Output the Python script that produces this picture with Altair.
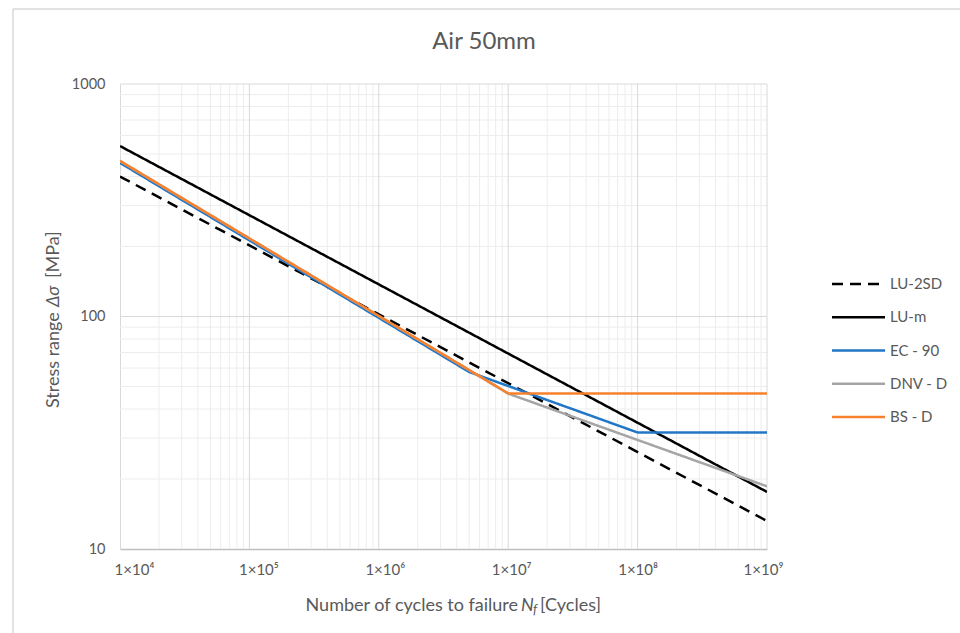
import altair as alt
import pandas as pd

# ---------------- data ----------------
series_names = ["LU-2SD", "LU-m", "EC - 90", "DNV - D", "BS - D"]
series_colors = ["#000000", "#000000", "#2176c6", "#a5a5a5", "#f7812c"]
series_dash = [[11, 7], [1, 0], [1, 0], [1, 0], [1, 0]]

lu2sd_n = [1e4, 1e9]
lu2sd_s = [400, 13.2]
lum_n = [1e4, 1e9]
lum_s = [541, 17.6]
ec_n = [1e4, 5e6, 1e8, 1e9]
ec_s = [458, 57.7, 31.7, 31.7]
dnv_n = [1e4, 1e7, 1e9]
dnv_s = [466, 46.6, 18.6]
bs_n = [1e4, 1e7, 1e9]
bs_s = [467, 46.7, 46.7]

x_ticks = [1e4, 1e5, 1e6, 1e7, 1e8, 1e9]
x_tick_labels = ["1×10⁴", "1×10⁵", "1×10⁶", "1×10⁷", "1×10⁸", "1×10⁹"]
x_label_shift = [14, 9, 6, 3, 0, -4]
y_ticks = [10, 100, 1000]
y_tick_labels = ["10", "100", "1000"]

chart_title = "Air 50mm"
x_title_parts = ["Number  of cycles to failure", "N", "f", "[Cycles]"]
y_title_parts = ["Stress range", "Δσ", "[MPa]"]

FONT = "Lato"
TXT = "#595959"

# ---------------- tables ----------------
rows = []
for name, ns, ss in [
    ("LU-2SD", lu2sd_n, lu2sd_s),
    ("LU-m", lum_n, lum_s),
    ("EC - 90", ec_n, ec_s),
    ("DNV - D", dnv_n, dnv_s),
    ("BS - D", bs_n, bs_s),
]:
    for i, (n, s) in enumerate(zip(ns, ss)):
        rows.append({"series": name, "n": n, "s": s, "i": i})
df = pd.DataFrame(rows)

x_minor = [m * d for d in [1e4, 1e5, 1e6, 1e7, 1e8] for m in range(2, 10)]
y_minor = [m * d for d in [10, 100] for m in range(2, 10)]

W, H = 647, 465
L, T = 120, 84

xscale = alt.Scale(type="log", domain=[1e4, 1e9], nice=False)
yscale = alt.Scale(type="log", domain=[10, 1000], nice=False)
cscale = alt.Scale(domain=series_names, range=series_colors)
dscale = alt.Scale(domain=series_names, range=series_dash)

x_label_expr = " : ".join(
    f"datum.value == {int(v)} ? '{lab}'" for v, lab in zip(x_ticks, x_tick_labels)
) + " : ''"
y_label_expr = " : ".join(
    f"datum.value == {int(v)} ? '{lab}'" for v, lab in zip(y_ticks, y_tick_labels)
) + " : ''"
x_label_offset = {
    "condition": [{"test": f"datum.value == {int(v)}", "value": d}
                  for v, d in zip(x_ticks, x_label_shift)],
    "value": 0,
}

xaxis = alt.Axis(values=x_ticks, labelExpr=x_label_expr, grid=False, ticks=False,
                 domainColor="#bfbfbf", domainWidth=1.5, labelFont=FONT,
                 labelFontSize=15, labelColor=TXT, labelPadding=13, title=None,
                 labelFlush=False, labelOverlap=False, labelOffset=x_label_offset)
yaxis = alt.Axis(values=y_ticks, labelExpr=y_label_expr, grid=False, ticks=False,
                 domainColor="#d9d9d9", domainWidth=1, labelFont=FONT,
                 labelFontSize=14.5, labelColor=TXT, labelPadding=15, title=None,
                 labelFlush=False, labelOverlap=False)

minor_x = alt.Chart(pd.DataFrame({"n": x_minor})).mark_rule(
    color="#ededed", strokeWidth=1).encode(x=alt.X("n:Q", scale=xscale, axis=xaxis))
minor_y = alt.Chart(pd.DataFrame({"s": y_minor})).mark_rule(
    color="#ededed", strokeWidth=1).encode(y=alt.Y("s:Q", scale=yscale, axis=yaxis))
major_x = alt.Chart(pd.DataFrame({"n": x_ticks[1:]})).mark_rule(
    color="#d9d9d9", strokeWidth=1).encode(x=alt.X("n:Q", scale=xscale, axis=xaxis))
major_y = alt.Chart(pd.DataFrame({"s": y_ticks[1:]})).mark_rule(
    color="#d9d9d9", strokeWidth=1).encode(y=alt.Y("s:Q", scale=yscale, axis=yaxis))

lines = alt.Chart(df).mark_line(strokeWidth=2.5, clip=True).encode(
    x=alt.X("n:Q", scale=xscale, axis=xaxis),
    y=alt.Y("s:Q", scale=yscale, axis=yaxis),
    color=alt.Color("series:N", scale=cscale, legend=None),
    strokeDash=alt.StrokeDash("series:N", scale=dscale, legend=None),
    detail="series:N",
    order="i:Q",
)

# ---------------- legend (manual) ----------------
leg_df = pd.DataFrame({"series": series_names})
leg_y = alt.Y("series:N", scale=alt.Scale(type="point", domain=series_names,
                                           range=[284 - T, 417 - T], padding=0),
              axis=None)
leg_rules = alt.Chart(leg_df).mark_rule(strokeWidth=2.5).encode(
    x=alt.value(832 - L), x2=alt.value(885 - L), y=leg_y,
    color=alt.Color("series:N", scale=cscale, legend=None),
    strokeDash=alt.StrokeDash("series:N", scale=dscale, legend=None),
)
leg_text = alt.Chart(leg_df).mark_text(
    align="left", baseline="middle", font=FONT, fontSize=15, color=TXT).encode(
    x=alt.value(890 - L), y=leg_y, text="series:N")
legend = alt.layer(leg_rules, leg_text)

# ---------------- texts ----------------
one = pd.DataFrame({"a": [0]})


def txt(text, x, y, **kw):
    base = dict(font=FONT, color=TXT, fontSize=18, baseline="alphabetic")
    base.update(kw)
    return alt.Chart(one).mark_text(text=text, **base).encode(
        x=alt.value(x - L), y=alt.value(y - T))


title_mark = txt(chart_title, 484, 42, fontSize=24, align="center", baseline="middle")
xt = [
    txt(x_title_parts[0], 518, 611, align="right"),
    txt(x_title_parts[1], 521, 611, align="left", fontStyle="italic"),
    txt(x_title_parts[2], 533, 614, align="left", fontStyle="italic", fontSize=13),
    txt(x_title_parts[3], 540, 611, align="left"),
]
yt = [
    txt(y_title_parts[0], 59, 408, align="left", angle=270),
    txt(y_title_parts[1], 59, 307, align="left", angle=270, fontStyle="italic"),
    txt(y_title_parts[2], 59, 278, align="left", angle=270),
]

frame_left = alt.Chart(one).mark_rule(color="#d9d9d9", strokeWidth=1.5).encode(
    x=alt.value(13 - L), y=alt.value(9 - T), y2=alt.value(660 - T))
frame_top = alt.Chart(one).mark_rule(color="#d9d9d9", strokeWidth=1.5).encode(
    x=alt.value(13 - L), x2=alt.value(980 - L), y=alt.value(9 - T))

plot = alt.layer(minor_x, minor_y, major_x, major_y, lines)

chart = alt.layer(
    frame_left, frame_top, plot, legend, title_mark, *xt, *yt
).resolve_scale(y="independent").properties(
    width=W, height=H,
    autosize=alt.AutoSizeParams(type="none"),
    padding={"left": L, "top": T, "right": 960 - L - W, "bottom": 633 - T - H},
    background="white",
).configure_view(stroke=None)

chart.save("out.html", embed_options={"renderer": "svg", "actions": False})
